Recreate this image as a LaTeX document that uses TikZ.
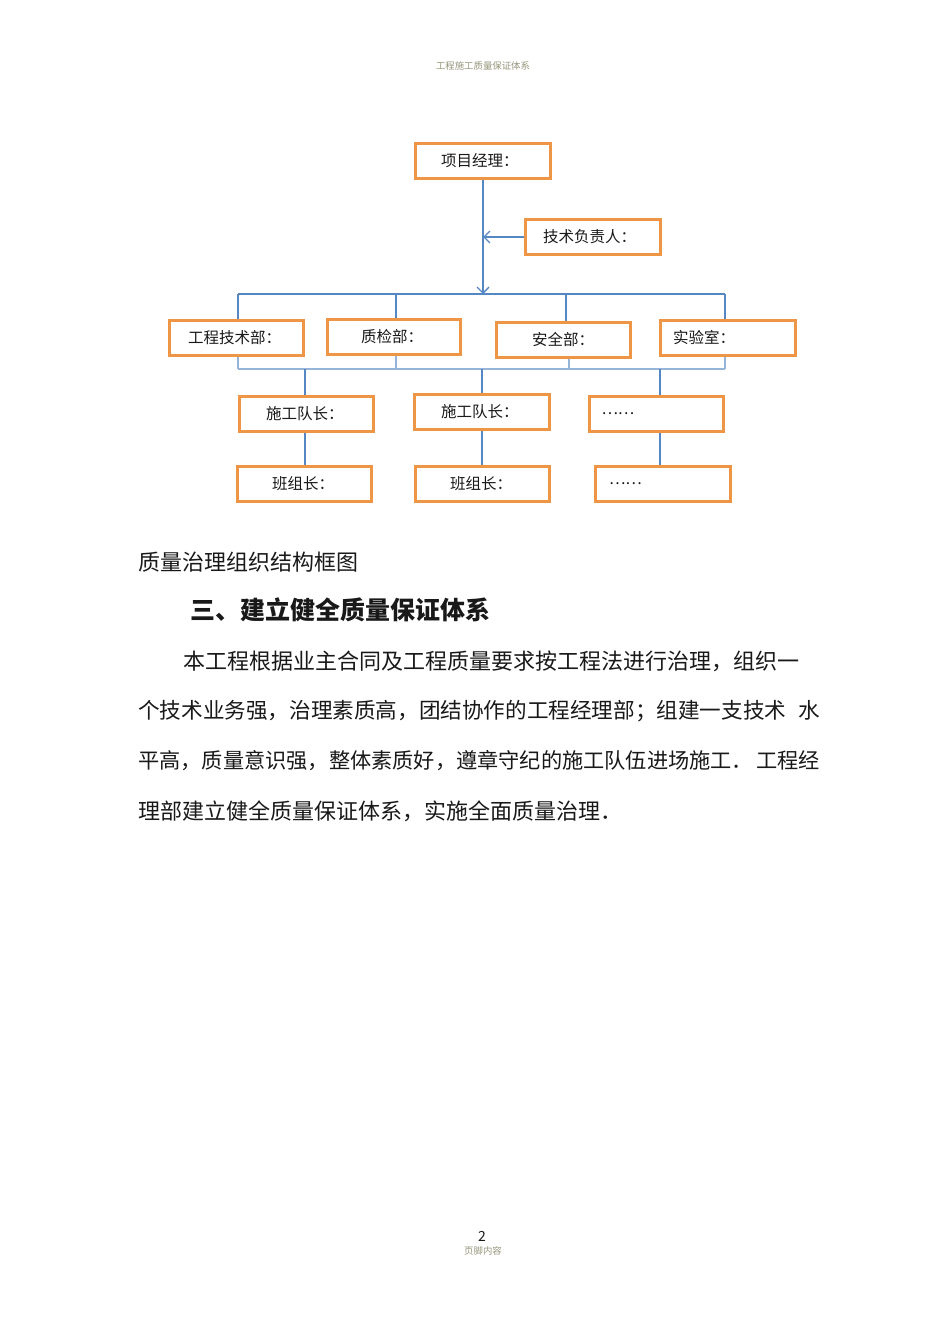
\documentclass[tikz,border=0pt]{standalone}
\usepackage{fontspec}
\setmainfont{Noto Sans CJK SC}
\usetikzlibrary{arrows.meta}
\definecolor{boxor}{RGB}{238,150,70}
\definecolor{lnblue}{RGB}{85,135,195}
\definecolor{lnlight}{RGB}{150,180,215}
\definecolor{hdrgray}{RGB}{150,150,125}
\definecolor{txt}{RGB}{25,25,25}
\begin{document}
\begin{tikzpicture}[x=1pt,y=-1pt,
  box/.style={draw=boxor, line width=3pt, fill=white, minimum height=35pt,
    inner ysep=0pt, align=left, text=txt, font=\fontsize{15.5}{17}\selectfont},
  conn/.style={draw=lnblue, line width=1.4pt},
  connthick/.style={draw=lnblue, line width=2.4pt},
  connlight/.style={draw=lnlight, line width=1.6pt},
  arr/.style={conn, -{Straight Barb[length=6pt,width=12pt,line width=1.3pt]}},
  body/.style={anchor=west, inner sep=0pt, text=txt, font=\fontsize{22}{26}\selectfont},
  bodyn/.style={body, font=\fontsize{21.6}{26}\selectfont},
  bodym/.style={body, font=\fontsize{21.2}{26}\selectfont}
]
\useasboundingbox[fill=white] (0,0) rectangle (950,1344);

% header / footer
\node[font=\fontsize{9.4}{11}\selectfont, text=hdrgray, inner sep=0pt] (hdr) at (483,66) {工程施工质量保证体系};
\node[font=\fontsize{14}{16}\selectfont, text=txt, inner sep=0pt] (pg) at (482,1236) {2};
\node[font=\fontsize{9.4}{11}\selectfont, text=hdrgray, inner sep=0pt] (ftr) at (483,1251) {页脚内容};

% boxes
\node[box, inner xsep=25.5pt, text width=84pt] (pm) at (483,161) {\raisebox{-2pt}{项目经理：}};
\node[box, inner xsep=17.5pt, text width=100pt] (tech) at (593,237) {\raisebox{-2pt}{技术负责人：}};
\node[box, inner xsep=18.5pt, text width=97pt] (d1) at (236.5,337.5) {\raisebox{-2pt}{工程技术部：}};
\node[box, inner xsep=33.5pt, text width=66pt] (d2) at (394,336.5) {\raisebox{-2pt}{质检部：}};
\node[box, inner xsep=35.5pt, text width=63pt] (d3) at (563.5,339.5) {\raisebox{-3pt}{安全部：}};
\node[box, inner xsep=12.5pt, text width=110pt] (d4) at (728,337.5) {\raisebox{-2pt}{实验室：}};
\node[box, inner xsep=26.5pt, text width=81pt] (t1) at (306.5,413.5) {\raisebox{-2pt}{施工队长：}};
\node[box, inner xsep=26.5pt, text width=82pt] (t2) at (482,411.5) {\raisebox{-2pt}{施工队长：}};
\node[box, inner xsep=12.5pt, text width=109pt] (t3) at (656,413.5) {……};
\node[box, inner xsep=34.5pt, text width=65pt] (g1) at (304.5,483.5) {\raisebox{-2pt}{班组长：}};
\node[box, inner xsep=34.5pt, text width=65pt] (g2) at (482.5,483.5) {\raisebox{-2pt}{班组长：}};
\node[box, inner xsep=13.5pt, text width=108pt] (g3) at (663,483.5) {……};

% upper connectors
\coordinate (busL) at (238,294);
\coordinate (busR) at (725,294);
\coordinate (busM) at (483,294);
\coordinate (u2) at (396,294);
\coordinate (u3) at (566,294);
\draw[arr] (pm.south) -- (busM);
\draw[arr] (tech.west) -- (tech.west -| pm.south);
\draw[conn] (busL) -- (busR);
\draw[conn] (busL) -- (busL |- d1.north);
\draw[conn] (u2) -- (u2 |- d2.north);
\draw[connthick] (u3) -- (u3 |- d3.north);
\draw[connthick] (busR) -- (busR |- d4.north);

% lower bus
\coordinate (lbL) at (238,369);
\coordinate (lbR) at (725,369);
\coordinate (l2) at (396,369);
\coordinate (l3) at (569,369);
\coordinate (m1) at (305,369);
\coordinate (m2) at (482,369);
\coordinate (m3) at (660,369);
\draw[connlight] (lbL) -- (lbR);
\draw[connlight] (d1.south -| lbL) -- (lbL);
\draw[connlight] (d2.south -| l2) -- (l2);
\draw[connlight] (d3.south -| l3) -- (l3);
\draw[connlight] (d4.south -| lbR) -- (lbR);
\draw[conn] (m1) -- (m1 |- t1.north);
\draw[conn] (m2) -- (m2 |- t2.north);
\draw[conn] (m3) -- (m3 |- t3.north);
\draw[conn] (t1.south -| m1) -- (g1.north -| m1);
\draw[conn] (t2.south -| m2) -- (g2.north -| m2);
\draw[conn] (t3.south -| m3) -- (g3.north -| m3);

% text below
\node[body] (cap) at (138,562) {质量治理组织结构框图};
\node[body, font=\fontsize{25}{28}\selectfont\bfseries] (head) at (190,610) {三、建立健全质量保证体系};
\node[body] (p1) at (183,661) {本工程根据业主合同及工程质量要求按工程法进行治理，组织一};
\node[bodyn] (p2) at (138,711) {\makebox[682pt][s]{个技术业务强，治理素质高，团结协作的工程经理部；组建一支技术\hfill 水}};
\node[bodym] (p3) at (138,761) {\makebox[682pt][s]{平高，质量意识强，整体素质好，遵章守纪的施工队伍进场施工．\hfill 工程经}};
\node[body] (p4) at (138,811) {理部建立健全质量保证体系，实施全面质量治理．};
\end{tikzpicture}
\end{document}
